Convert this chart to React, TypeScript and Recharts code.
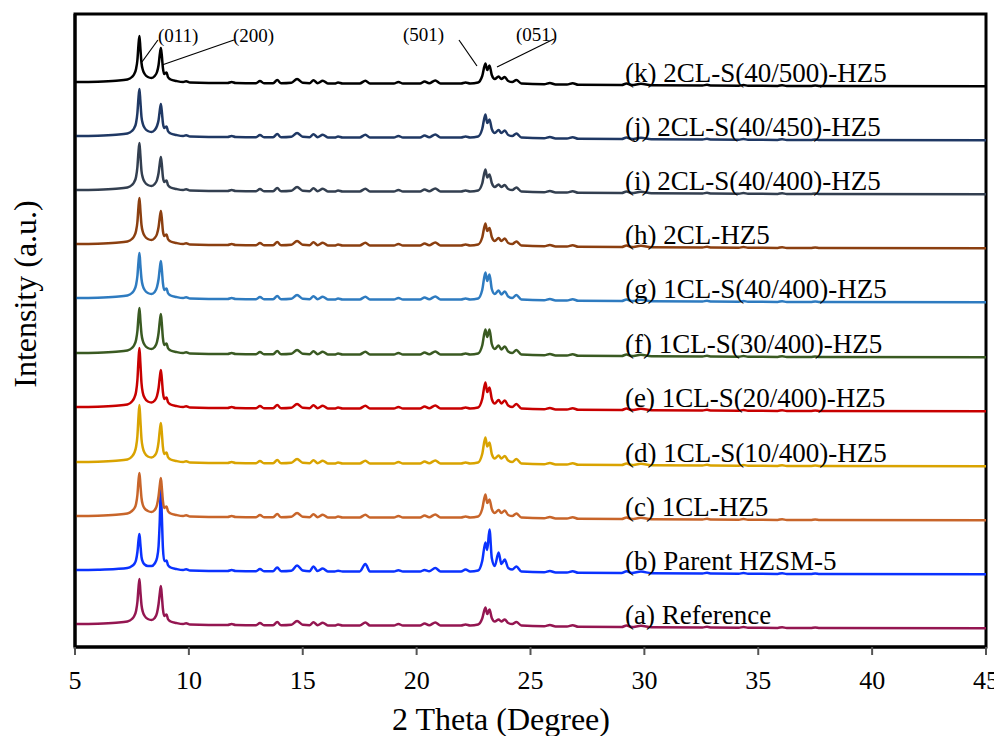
import React from "react";
import { LineChart, Line, XAxis, YAxis, ReferenceArea, ReferenceDot, ReferenceLine } from "recharts";

const FONT = '"Liberation Serif", "Times New Roman", serif';

// 2 theta grid shared by all patterns (denser around the peaks)
const twoTheta = [
  5, 6, 6.8, 7.3, 7.5, 7.6, 7.68, 7.74, 7.79, 7.83,
  7.87, 7.92, 7.98, 8.06, 8.2, 8.36, 8.5, 8.6, 8.67, 8.72,
  8.77, 8.81, 8.86, 8.92, 8.97, 9.02, 9.08, 9.2, 9.45, 9.75,
  9.88, 10.05, 11.7, 11.88, 12.05, 12.95, 13.12, 13.3, 13.7, 13.88,
  14.05, 14.5, 14.75, 15.0, 15.3, 15.47, 15.65, 15.88, 16.1, 16.4,
  16.55, 16.75, 17.5, 17.75, 17.95, 19.0, 19.2, 19.4, 20.15, 20.35,
  20.55, 20.82, 21.05, 21.95, 22.15, 22.35, 22.7, 22.88, 23.02, 23.1,
  23.2, 23.3, 23.43, 23.6, 23.72, 23.87, 24.02, 24.2, 24.38, 24.6,
  25.6, 25.85, 26.1, 26.6, 26.85, 27.1, 29.0, 29.22, 29.45, 29.85,
  30.3, 32.55, 32.75, 32.95, 34.15, 34.35, 34.55, 35.85, 36.05, 36.25,
  37.3, 37.5, 37.7, 45,
];

// intensities (a.u.) relative to each pattern's own baseline
const intensityA = [
  0, 0.3, 1.2, 2.5, 5, 8, 13, 22, 37, 45,
  33, 19, 12, 8, 5, 4, 6, 11, 20, 30,
  38, 29, 15, 8, 9, 9.5, 5, 2.5, 1, 0,
  0.8, -0.5, -1, 0, -1, -1.2, 1, -1.3, -1.2, 2,
  -1.3, -0.8, 3, -0.8, -1.2, 1.8, -1.2, 1.2, -1.4, -1.5,
  -0.6, -1.5, -1.4, 1.5, -1.5, -1.5, 0, -1.5, -1.5, 0.5,
  -1.3, 1.5, -1.5, -1.5, -0.5, -1.5, -0.5, 5.5, 16.5, 10,
  14.5, 6, 2.5, 4.5, 2.5, 4.5, 1, 0, 2, -1.5,
  -2.3, -1, -2.5, -2.6, -1.2, -2.8, -3, -1.5, -3, -1.8,
  -3.2, -3.5, -2.8, -3.6, -3.7, -3, -3.8, -3.9, -3.2, -4,
  -4, -3.4, -4, -4.2,
];
const intensityB = [
  0, 0.3, 1, 2, 4, 6, 10, 18, 30, 36,
  26, 13, 8, 5.5, 4, 4, 6.5, 12, 24, 48,
  80, 56, 22, 9, 9, 9.5, 5, 2.5, 1, 0,
  0.8, -0.5, -1, 0, -1, -1.2, 1, -1.3, -1.2, 2.5,
  -1.3, -0.8, 4.5, -0.5, -1.2, 3.5, -1, 1.5, -1.4, -1.5,
  -0.8, -1.5, -1.4, 6, -1.5, -1.5, -0.2, -1.5, -1.5, 0,
  -1.3, 2, -1.5, -1.5, 0.5, -1.5, -0.5, 9, 27.5, 20,
  40.5, 12, 4, 17.5, 6, 10.5, 2, 0.5, 3.5, -1.5,
  -2.3, -1, -2.5, -2.6, -1.2, -2.8, -3, -1.2, -3, -1.6,
  -3.2, -3.5, -2.8, -3.6, -3.7, -3, -3.8, -3.9, -3.2, -4,
  -4, -3.4, -4, -4.2,
];
const intensityC = [
  0, 0.3, 1.2, 2.5, 5, 7.5, 12, 21, 36, 43,
  32, 18, 11, 7.5, 5, 4, 6, 11, 20, 30,
  38, 29, 15, 8, 9, 9.5, 5, 2.5, 1, 0,
  0.8, -0.5, -1, 0, -1, -1.2, 1, -1.3, -1.2, 2,
  -1.3, -0.8, 3, -0.8, -1.2, 1.8, -1.2, 1.2, -1.4, -1.5,
  -0.6, -1.5, -1.4, 1.2, -1.5, -1.5, 0, -1.5, -1.5, 0.5,
  -1.3, 1.5, -1.5, -1.5, -0.5, -1.5, -0.5, 7, 21.5, 13,
  16.5, 7, 3, 6, 3, 5.5, 1, 0, 2.5, -1.5,
  -2.3, -1, -2.5, -2.6, -1.2, -2.8, -3, -1.5, -3, -1.8,
  -3.2, -3.5, -2.8, -3.6, -3.7, -3, -3.8, -3.9, -3.2, -4,
  -4, -3.4, -4, -4.2,
];
const intensityD = [
  0, 0.3, 1.2, 2.5, 5.5, 9, 15, 26, 46, 57,
  42, 23, 14, 9, 5.5, 4.5, 6.5, 11, 20, 31,
  39, 30, 15, 8, 9, 9.5, 5, 2.5, 1, 0,
  0.8, -0.5, -1, 0, -1, -1.2, 1, -1.3, -1.2, 2,
  -1.3, -0.8, 3, -0.8, -1.2, 1.8, -1.2, 1.2, -1.4, -1.5,
  -0.6, -1.5, -1.4, 1.2, -1.5, -1.5, 0, -1.5, -1.5, 0.5,
  -1.3, 1.5, -1.5, -1.5, -0.5, -1.5, -0.5, 8, 24.5, 15.5,
  19.5, 8, 3.5, 6.5, 3.5, 6, 1.5, 0, 3, -1.5,
  -2.3, -1, -2.5, -2.6, -1.2, -2.8, -3, -1.5, -3, -1.8,
  -3.2, -3.5, -2.8, -3.6, -3.7, -3, -3.8, -3.9, -3.2, -4,
  -4, -3.4, -4, -4.2,
];
const intensityE = [
  0, 0.3, 1.2, 2.5, 5.5, 9, 15, 27, 48, 59,
  44, 24, 14, 9, 5.5, 4.5, 6.5, 11, 19, 29,
  37, 29, 15, 8, 9, 9.5, 5, 2.5, 1, 0,
  0.8, -0.5, -1, 0, -1, -1.2, 1, -1.3, -1.2, 2,
  -1.3, -0.8, 3, -0.8, -1.2, 1.8, -1.2, 1.2, -1.4, -1.5,
  -0.6, -1.5, -1.4, 1.2, -1.5, -1.5, 0, -1.5, -1.5, 0.5,
  -1.3, 1.5, -1.5, -1.5, -0.5, -1.5, -0.5, 8, 24.5, 15,
  19.5, 8, 3.5, 7, 3.5, 6.5, 1.5, 0, 3, -1.5,
  -2.3, -1, -2.5, -2.6, -1.2, -2.8, -3, -1.5, -3, -1.8,
  -3.2, -3.5, -2.8, -3.6, -3.7, -3, -3.8, -3.9, -3.2, -4,
  -4, -3.4, -4, -4.2,
];
const intensityF = [
  0, 0.3, 1.2, 2.5, 5, 8, 13, 22, 37, 45,
  33, 19, 12, 8, 5, 4, 6, 11, 20, 31,
  39, 30, 15, 8, 9, 9.5, 5, 2.5, 1, 0,
  0.8, -0.5, -1, 0, -1, -1.2, 1, -1.3, -1.2, 2,
  -1.3, -0.8, 3, -0.8, -1.2, 1.8, -1.2, 1.2, -1.4, -1.5,
  -0.6, -1.5, -1.4, 1.2, -1.5, -1.5, 0, -1.5, -1.5, 0.5,
  -1.3, 1.5, -1.5, -1.5, -0.5, -1.5, -0.5, 7.5, 23.5, 16,
  23.5, 9, 4, 7.5, 3.5, 6.5, 1.5, 0, 3, -1.5,
  -2.3, -1, -2.5, -2.6, -1.2, -2.8, -3, -1.5, -3, -1.8,
  -3.2, -3.5, -2.8, -3.6, -3.7, -3, -3.8, -3.9, -3.2, -4,
  -4, -3.4, -4, -4.2,
];
const intensityG = [
  0, 0.3, 1.2, 2.5, 5, 8, 13, 22, 37, 45,
  33, 19, 12, 8, 5, 4, 6, 11, 19, 29,
  37, 29, 15, 8, 9, 9.5, 5, 2.5, 1, 0,
  0.8, -0.5, -1, 0, -1, -1.2, 1, -1.3, -1.2, 2,
  -1.3, -0.8, 3, -0.8, -1.2, 1.8, -1.2, 1.2, -1.4, -1.5,
  -0.6, -1.5, -1.4, 1.2, -1.5, -1.5, 0, -1.5, -1.5, 0.5,
  -1.3, 1.5, -1.5, -1.5, -0.5, -1.5, -0.5, 8, 25.5, 17,
  23.5, 9, 4, 7.5, 3.5, 6.5, 1.5, 0, 3, -1.5,
  -2.3, -1, -2.5, -2.6, -1.2, -2.8, -3, -1.5, -3, -1.8,
  -3.2, -3.5, -2.8, -3.6, -3.7, -3, -3.8, -3.9, -3.2, -4,
  -4, -3.4, -4, -4.2,
];
const intensityH = [
  0, 0.3, 1.2, 2.5, 5, 8, 13, 22, 38, 46,
  34, 19, 12, 8, 5, 4, 6, 10, 17, 26,
  33, 26, 13, 8, 9, 9.5, 5, 2.5, 1, 0,
  0.8, -0.5, -1, 0, -1, -1.2, 1, -1.3, -1.2, 2,
  -1.3, -0.8, 3, -0.8, -1.2, 1.8, -1.2, 1.2, -1.4, -1.5,
  -0.6, -1.5, -1.4, 1.2, -1.5, -1.5, 0, -1.5, -1.5, 0.5,
  -1.3, 1.5, -1.5, -1.5, -0.5, -1.5, -0.5, 6.5, 20.5, 13,
  16, 7, 3, 6, 3, 5.5, 1, 0, 2.5, -1.5,
  -2.3, -1, -2.5, -2.6, -1.2, -2.8, -3, -1.5, -3, -1.8,
  -3.2, -3.5, -2.8, -3.6, -3.7, -3, -3.8, -3.9, -3.2, -4,
  -4, -3.4, -4, -4.2,
];
const intensityI = [
  0, 0.3, 1.2, 2.5, 5, 8, 13, 23, 39, 47,
  35, 19, 12, 8, 5, 4, 6, 10, 17, 26,
  33, 26, 13, 8, 9, 9.5, 5, 2.5, 1, 0,
  0.8, -0.5, -1, 0, -1, -1.2, 1, -1.3, -1.2, 2,
  -1.3, -0.8, 3, -0.8, -1.2, 1.8, -1.2, 1.2, -1.4, -1.5,
  -0.6, -1.5, -1.4, 1.2, -1.5, -1.5, 0, -1.5, -1.5, 0.5,
  -1.3, 1.5, -1.5, -1.5, -0.5, -1.5, -0.5, 6.5, 20.5, 12.5,
  15.5, 7, 3, 5.5, 3, 5, 1, 0, 2.5, -1.5,
  -2.3, -1, -2.5, -2.6, -1.2, -2.8, -3, -1.5, -3, -1.8,
  -3.2, -3.5, -2.8, -3.6, -3.7, -3, -3.8, -3.9, -3.2, -4,
  -4, -3.4, -4, -4.2,
];
const intensityJ = [
  0, 0.3, 1.2, 2.5, 5, 8, 13, 23, 39, 47,
  35, 19, 12, 8, 5, 4, 6, 10, 16, 25,
  32, 25, 13, 8, 9, 9.5, 5, 2.5, 1, 0,
  0.8, -0.5, -1, 0, -1, -1.2, 1, -1.3, -1.2, 2,
  -1.3, -0.8, 3, -0.8, -1.2, 1.8, -1.2, 1.2, -1.4, -1.5,
  -0.6, -1.5, -1.4, 1.2, -1.5, -1.5, 0, -1.5, -1.5, 0.5,
  -1.3, 1.5, -1.5, -1.5, -0.5, -1.5, -0.5, 7, 21.5, 13,
  16.5, 7, 3, 6, 3, 5.5, 1, 0, 2.5, -1.5,
  -2.3, -1, -2.5, -2.6, -1.2, -2.8, -3, -1.5, -3, -1.8,
  -3.2, -3.5, -2.8, -3.6, -3.7, -3, -3.8, -3.9, -3.2, -4,
  -4, -3.4, -4, -4.2,
];
const intensityK = [
  0, 0.3, 1.2, 2.5, 5, 8, 13, 22, 38, 46,
  34, 19, 12, 8, 5, 4, 6, 10, 17, 27,
  34, 27, 14, 8, 9, 9.5, 5, 2.5, 1, 0,
  0.8, -0.5, -1, 0, -1, -1.2, 1, -1.3, -1.2, 2,
  -1.3, -0.8, 3, -0.8, -1.2, 1.8, -1.2, 1.2, -1.4, -1.5,
  -0.6, -1.5, -1.4, 1.2, -1.5, -1.5, 0, -1.5, -1.5, 0.5,
  -1.3, 1.5, -1.5, -1.5, -0.5, -1.5, -0.5, 6, 18.5, 12,
  16.5, 7, 3, 5.5, 3, 5, 1, 0, 2, -1.5,
  -2.3, -1, -2.5, -2.6, -1.2, -2.8, -3, -1.5, -3, -1.8,
  -3.2, -3.5, -2.8, -3.6, -3.7, -3, -3.8, -3.9, -3.2, -4,
  -4, -3.4, -4, -4.2,
];

const sampleKeys = ["a", "b", "c", "d", "e", "f", "g", "h", "i", "j", "k"];
const sampleLabels = [
  "(a) Reference",
  "(b) Parent HZSM-5",
  "(c) 1CL-HZ5",
  "(d) 1CL-S(10/400)-HZ5",
  "(e) 1CL-S(20/400)-HZ5",
  "(f) 1CL-S(30/400)-HZ5",
  "(g) 1CL-S(40/400)-HZ5",
  "(h) 2CL-HZ5",
  "(i) 2CL-S(40/400)-HZ5",
  "(j) 2CL-S(40/450)-HZ5",
  "(k) 2CL-S(40/500)-HZ5",
];
// vertical stacking offset of each pattern
const baselines = [23, 77, 131, 185, 240, 294, 349, 403, 457, 511, 565];
const colors = [
  "#941651", "#0A32FF", "#C8652A", "#D9A300", "#C80000", "#3A5A22",
  "#2E7BC0", "#8B3F10", "#333F50", "#1F3864", "#000000",
];
const intensities = [
  intensityA, intensityB, intensityC, intensityD, intensityE, intensityF,
  intensityG, intensityH, intensityI, intensityJ, intensityK,
];

const xTicks = [5, 10, 15, 20, 25, 30, 35, 40, 45];

// reflection labels: text position and leader line (from, to)
const planeNames = ["(011)", "(200)", "(501)", "(051)"];
const planeTextAt = [[8.64, 612], [11.94, 612], [19.4, 613], [24.36, 613]];
const planeLines = [
  [[8.64, 607], [7.94, 585]],
  [[11.98, 607], [8.82, 582]],
  [[21.86, 607], [22.65, 581]],
  [[26.03, 608], [23.53, 580]],
];

const chartData = twoTheta.map((x, i) => {
  const row: any = { x };
  sampleKeys.forEach((k, s) => {
    row[k] = baselines[s] + intensities[s][i];
  });
  return row;
});

const App = () => {
  return (
    <div style={{ position: "relative", width: 994, height: 728 }}>
      <LineChart
        width={994}
        height={728}
        data={chartData}
        margin={{ top: 6, right: 16, left: 0, bottom: 0 }}
        style={{ overflow: "visible" }}
      >
        <XAxis
          type="number"
          dataKey="x"
          domain={[5, 45]}
          ticks={xTicks}
          interval={0}
          height={89}
          tickSize={8}
          tickMargin={16}
          axisLine={{ stroke: "#000", strokeWidth: 3 }}
          tickLine={{ stroke: "#555", strokeWidth: 2 }}
          tick={{ fill: "#000", fontSize: 26, fontFamily: FONT }}
        />
        <YAxis
          type="number"
          domain={[0, 633]}
          width={67}
          tick={false}
          tickLine={false}
          axisLine={{ stroke: "#000", strokeWidth: 3 }}
        />
        <ReferenceArea x1={5} x2={45} y1={0} y2={633} fill="none" stroke="#000" strokeWidth={3} ifOverflow="visible" />
        {sampleKeys.map((k, s) => (
          <Line
            key={k}
            type="monotone"
            dataKey={k}
            stroke={colors[s]}
            strokeWidth={2.5}
            dot={false}
            isAnimationActive={false}
          />
        ))}
        {sampleKeys.map((k, s) => (
          <ReferenceDot
            key={`lbl-${k}`}
            x={29.15}
            y={baselines[s] + 10}
            r={0}
            fill="none"
            stroke="none"
            ifOverflow="visible"
            label={{ value: sampleLabels[s], position: "right", offset: 0, fill: "#000", fontSize: 27, fontFamily: FONT }}
          />
        ))}
        {planeLines.map((seg, i) => (
          <ReferenceLine
            key={`pl-${i}`}
            segment={[{ x: seg[0][0], y: seg[0][1] }, { x: seg[1][0], y: seg[1][1] }]}
            stroke="#000"
            strokeWidth={1.2}
            ifOverflow="visible"
          />
        ))}
        {planeNames.map((name, i) => (
          <ReferenceDot
            key={`pn-${i}`}
            x={planeTextAt[i][0]}
            y={planeTextAt[i][1]}
            r={0}
            fill="none"
            stroke="none"
            ifOverflow="visible"
            label={{ value: name, position: "right", offset: 0, fill: "#000", fontSize: 19, fontFamily: FONT }}
          />
        ))}
      </LineChart>
      <svg width={994} height={728} style={{ position: "absolute", left: 0, top: 0, pointerEvents: "none", overflow: "visible" }}>
        <text x={493} y={722} textAnchor="middle" fontSize={32} fontFamily={FONT} fill="#000">
          2 Theta (Degree)
        </text>
        <text x={28} y={286} textAnchor="middle" fontSize={32} fontFamily={FONT} fill="#000" transform="rotate(-90, 28, 286)">
          Intensity (a.u.)
        </text>
      </svg>
    </div>
  );
};

export default App;
